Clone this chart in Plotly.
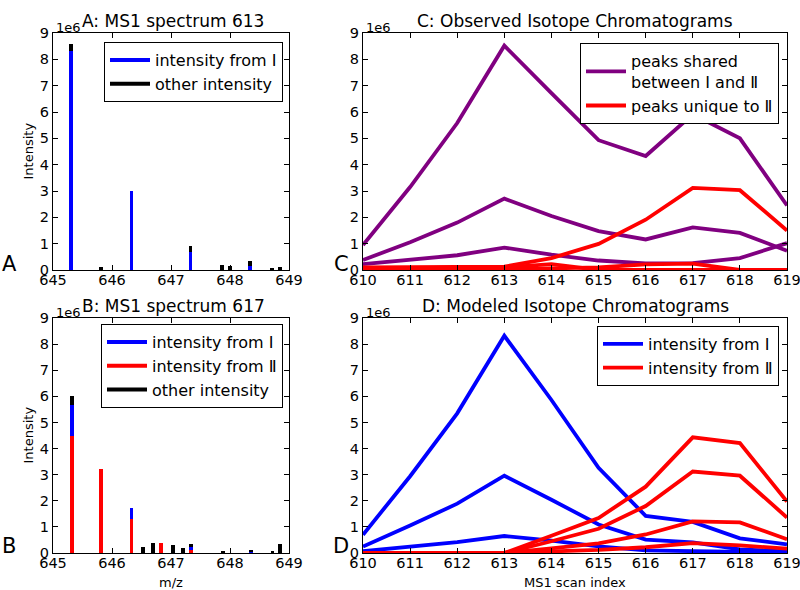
import plotly.graph_objects as go

FONT = "DejaVu Sans"
W, H = 800, 590

# ---------------- data (intensities in units of 1e6) ----------------
# Panel A: MS1 spectrum 613
A_mz = [645.31, 645.82, 646.33, 647.33, 647.86, 648.00, 648.34, 648.71, 648.85]
A_from_I = [8.33, 0.0, 3.00, 0.70, 0.0, 0.0, 0.17, 0.0, 0.0]
A_other = [0.25, 0.11, 0.0, 0.20, 0.19, 0.14, 0.17, 0.09, 0.10]

# Panel B: MS1 spectrum 617
B_mz = [645.32, 645.82, 646.33, 646.53, 646.69, 646.83, 647.03, 647.20, 647.34,
        647.88, 648.35, 648.72, 648.85]
B_from_II = [4.48, 3.20, 1.30, 0.0, 0.0, 0.40, 0.0, 0.0, 0.12, 0.0, 0.0, 0.0, 0.0]
B_from_I = [1.18, 0.0, 0.42, 0.0, 0.0, 0.0, 0.0, 0.0, 0.10, 0.0, 0.05, 0.0, 0.0]
B_other = [0.34, 0.0, 0.0, 0.22, 0.38, 0.0, 0.32, 0.20, 0.11, 0.07, 0.07, 0.07, 0.35]

# Panels C and D: scans
scans = [610, 611, 612, 613, 614, 615, 616, 617, 618, 619]

C_shared_1 = [0.95, 3.15, 5.58, 8.52, 6.72, 4.93, 4.33, 5.91, 5.00, 2.45]
C_shared_2 = [0.38, 1.05, 1.80, 2.71, 2.05, 1.48, 1.16, 1.62, 1.41, 0.73]
C_shared_3 = [0.22, 0.39, 0.56, 0.85, 0.58, 0.36, 0.25, 0.26, 0.45, 1.02]
C_unique_1 = [0.10, 0.10, 0.13, 0.13, 0.45, 0.99, 1.91, 3.12, 3.03, 1.50]
C_unique_2 = [0.06, 0.06, 0.10, 0.10, 0.22, 0.00, 0.00, 0.00, 0.00, 0.00]
C_unique_3 = [0.00, 0.00, 0.00, 0.03, 0.06, 0.10, 0.21, 0.24, 0.00, 0.00]

D_from_I_1 = [0.70, 2.94, 5.35, 8.32, 5.86, 3.26, 1.42, 1.19, 0.56, 0.33]
D_from_I_2 = [0.25, 1.05, 1.89, 2.96, 2.04, 1.09, 0.51, 0.41, 0.14, 0.06]
D_from_I_3 = [0.07, 0.25, 0.42, 0.65, 0.47, 0.25, 0.10, 0.07, 0.03, 0.02]
D_from_II_1 = [0.0, 0.0, 0.0, 0.0, 0.66, 1.34, 2.54, 4.43, 4.21, 1.97]
D_from_II_2 = [0.0, 0.0, 0.0, 0.0, 0.45, 0.93, 1.80, 3.12, 2.96, 1.36]
D_from_II_3 = [0.0, 0.0, 0.0, 0.0, 0.18, 0.37, 0.71, 1.21, 1.17, 0.53]
D_from_II_4 = [0.0, 0.0, 0.0, 0.0, 0.06, 0.12, 0.22, 0.38, 0.29, 0.17]

y_ticks = [0, 1, 2, 3, 4, 5, 6, 7, 8, 9]
mz_ticks = [645, 646, 647, 648, 649]

BLUE, RED, BLACK, PURPLE = "#0000ff", "#ff0000", "#000000", "#800080"
BAR_W = 0.065
LW = 3.8

fig = go.Figure()

# ---------------- Panel A bars ----------------
fig.add_trace(go.Bar(x=A_mz, y=A_from_I, width=BAR_W, marker_color=BLUE,
                     marker_line_width=0, showlegend=False, xaxis="x", yaxis="y"))
fig.add_trace(go.Bar(x=A_mz, y=A_other, width=BAR_W, marker_color=BLACK,
                     marker_line_width=0, showlegend=False, xaxis="x", yaxis="y"))
for i, (name, col) in enumerate([("intensity from Ⅰ", BLUE), ("other intensity", BLACK)]):
    fig.add_trace(go.Scatter(x=[None], y=[None], mode="lines", name=name,
                             legendgroup="a%d" % i,
                             line=dict(color=col, width=4), legend="legend",
                             xaxis="x", yaxis="y"))

# ---------------- Panel B bars ----------------
for vals, col in [(B_from_II, RED), (B_from_I, BLUE), (B_other, BLACK)]:
    fig.add_trace(go.Bar(x=B_mz, y=vals, width=BAR_W, marker_color=col,
                         marker_line_width=0, showlegend=False, xaxis="x2", yaxis="y2"))
for i, (name, col) in enumerate([("intensity from Ⅰ", BLUE), ("intensity from Ⅱ", RED),
                                 ("other intensity", BLACK)]):
    fig.add_trace(go.Scatter(x=[None], y=[None], mode="lines", name=name,
                             legendgroup="b%d" % i,
                             line=dict(color=col, width=4), legend="legend2",
                             xaxis="x2", yaxis="y2"))

# ---------------- Panel C lines ----------------
c_series = [(C_shared_1, PURPLE, "peaks shared<br>between Ⅰ and Ⅱ", True, "c0"),
            (C_shared_2, PURPLE, None, False, "c0"),
            (C_shared_3, PURPLE, None, False, "c0"),
            (C_unique_1, RED, "peaks unique to Ⅱ", True, "c1"),
            (C_unique_2, RED, None, False, "c1"),
            (C_unique_3, RED, None, False, "c1")]
for vals, col, name, sl, grp in c_series:
    fig.add_trace(go.Scatter(x=scans, y=vals, mode="lines", name=name, showlegend=sl,
                             legendgroup=grp,
                             line=dict(color=col, width=LW), legend="legend3",
                             xaxis="x3", yaxis="y3"))

# ---------------- Panel D lines ----------------
d_series = [(D_from_I_1, BLUE, "intensity from Ⅰ", True, "d0"),
            (D_from_I_2, BLUE, None, False, "d0"),
            (D_from_I_3, BLUE, None, False, "d0"),
            (D_from_II_1, RED, "intensity from Ⅱ", True, "d1"),
            (D_from_II_2, RED, None, False, "d1"),
            (D_from_II_3, RED, None, False, "d1"),
            (D_from_II_4, RED, None, False, "d1")]
for vals, col, name, sl, grp in d_series:
    fig.add_trace(go.Scatter(x=scans, y=vals, mode="lines", name=name, showlegend=sl,
                             legendgroup=grp,
                             line=dict(color=col, width=LW), legend="legend4",
                             xaxis="x4", yaxis="y4"))

# ---------------- layout ----------------
def px_x(p):
    return p / W

def px_y(p):
    return 1 - p / H

AX_L, AX_R = 53, 289
CX_L, CX_R = 363, 787
TOP1, BOT1 = 33, 270
TOP2, BOT2 = 318, 553

common = dict(showline=True, linecolor="black", linewidth=1, mirror="allticks",
              ticks="inside", ticklen=5, tickcolor="black", showgrid=False,
              zeroline=False, automargin=False, fixedrange=True,
              ticklabeloverflow="allow",
              tickfont=dict(family=FONT, size=14.5, color="black"))

def xax(dom, rng, tv, anchor):
    d = dict(common)
    d.update(domain=[px_x(dom[0]), px_x(dom[1])], range=rng, tickvals=tv,
             anchor=anchor, ticklabelstandoff=-3)
    return d

def yax(dom, anchor):
    d = dict(common)
    d.update(domain=[px_y(dom[1]), px_y(dom[0])], range=[0, 9], tickvals=y_ticks,
             anchor=anchor)
    return d

legend_common = dict(bgcolor="white", bordercolor="black", borderwidth=1,
                     font=dict(family=FONT, size=16, color="black"),
                     xanchor="right", yanchor="top", traceorder="grouped",
                     tracegroupgap=0, itemwidth=40)

fig.update_layout(
    width=W, height=H, margin=dict(l=0, r=0, t=0, b=0, pad=0),
    paper_bgcolor="white", plot_bgcolor="white",
    barmode="stack", bargap=0,
    font=dict(family=FONT, color="black"),
    xaxis=xax((AX_L, AX_R), [645, 649], mz_ticks, "y"),
    yaxis=yax((TOP1, BOT1), "x"),
    xaxis2=xax((AX_L, AX_R), [645, 649], mz_ticks, "y2"),
    yaxis2=yax((TOP2, BOT2), "x2"),
    xaxis3=xax((CX_L, CX_R), [610, 619], scans, "y3"),
    yaxis3=yax((TOP1, BOT1), "x3"),
    xaxis4=xax((CX_L, CX_R), [610, 619], scans, "y4"),
    yaxis4=yax((TOP2, BOT2), "x4"),
    legend=dict(legend_common, x=px_x(283), y=px_y(42)),
    legend2=dict(legend_common, x=px_x(283), y=px_y(324)),
    legend3=dict(legend_common, x=px_x(779), y=px_y(43)),
    legend4=dict(legend_common, x=px_x(779), y=px_y(326)),
)

def ann(text, x, y, size, xanchor="center", yanchor="middle", angle=0):
    fig.add_annotation(text=text, x=px_x(x), y=px_y(y), xref="paper", yref="paper",
                       showarrow=False, xanchor=xanchor, yanchor=yanchor,
                       textangle=angle, font=dict(family=FONT, size=size, color="black"))

# titles
ann("A: MS1 spectrum 613", (AX_L + AX_R) / 2 + 2, 21, 17)
ann("B: MS1 spectrum 617", (AX_L + AX_R) / 2 + 2, 306, 17)
ann("C: Observed Isotope Chromatograms", (CX_L + CX_R) / 2, 21, 17)
ann("D: Modeled Isotope Chromatograms", (CX_L + CX_R) / 2, 306, 17)
# offset texts
for xl, yt in [(AX_L, TOP1), (AX_L, TOP2), (CX_L, TOP1), (CX_L, TOP2)]:
    ann("1e6", xl + 1, yt - 6, 13, xanchor="left")
# axis labels
ann("Intensity", 28, (TOP1 + BOT1) / 2, 13, angle=-90)
ann("Intensity", 28, (TOP2 + BOT2) / 2, 13, angle=-90)
ann("m/z", (AX_L + AX_R) / 2, 582, 13)
ann("MS1 scan index", (CX_L + CX_R) / 2, 582, 13)
# panel letters
ann("A", 9, 264, 21)
ann("B", 9, 546, 21)
ann("C", 341, 264, 21)
ann("D", 341, 546, 21)

fig.write_html("out.html", config={"displayModeBar": False},
               post_script="document.body.style.margin='0px';")
